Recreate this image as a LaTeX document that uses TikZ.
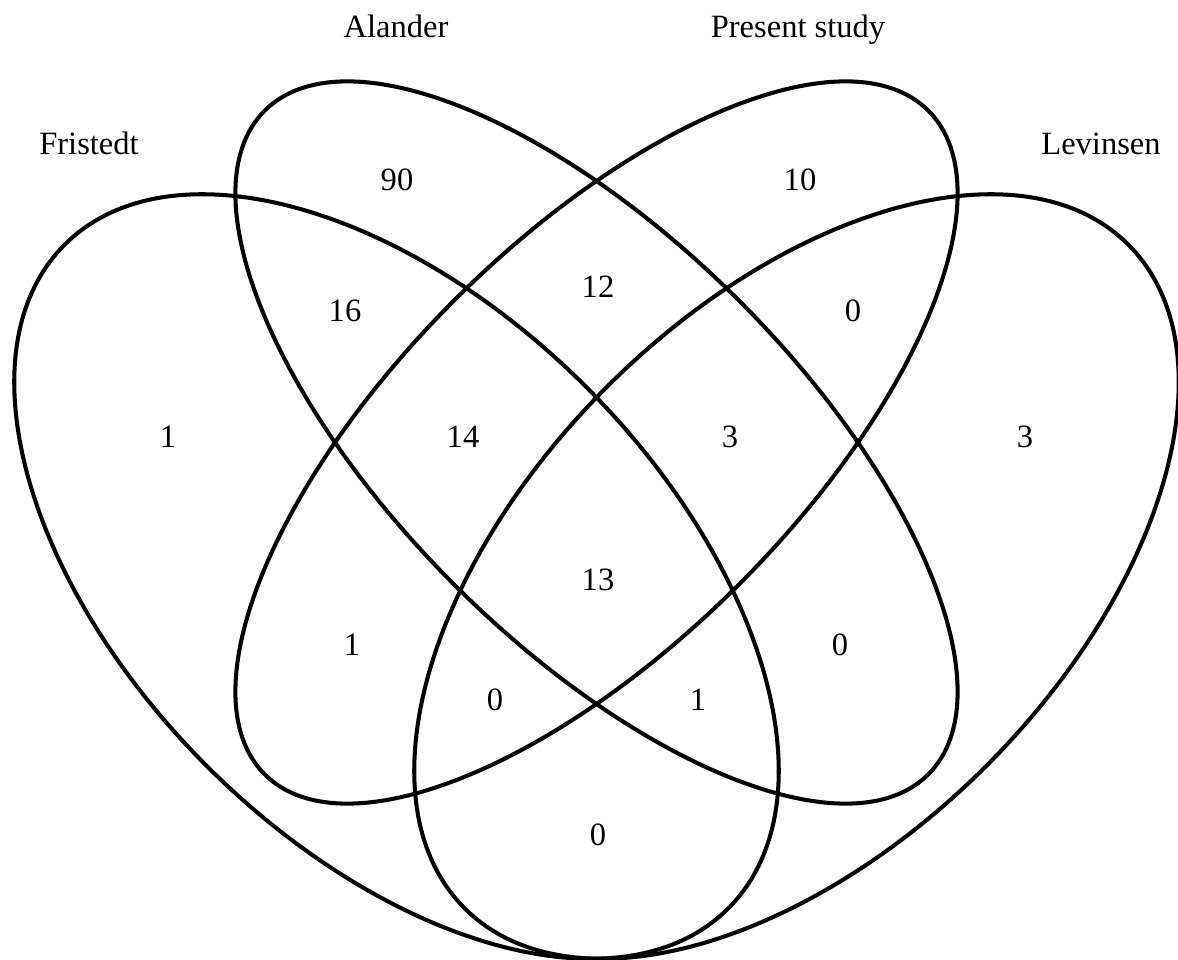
\documentclass[tikz,border=0pt]{standalone}
\usepackage{fontspec}
\setmainfont{Liberation Serif}
\begin{document}
\begin{tikzpicture}[x=0.01cm,y=0.01cm,
  setline/.style={line width=1.15pt},
  lbl/.style={font=\fontsize{9.25pt}{11pt}\selectfont, inner sep=0pt},
  num/.style={font=\fontsize{9.25pt}{11pt}\selectfont, inner sep=0pt, anchor=center}]
\useasboundingbox (0,0) rectangle (1178,960);
% ellipses
\draw[setline, shift={(396.5,383.5)}, rotate=-45] (0,0) ellipse [x radius=4.69cm, y radius=2.68cm];
\draw[setline, shift={(796.5,383.5)}, rotate=45] (0,0) ellipse [x radius=4.69cm, y radius=2.68cm];
\draw[setline, shift={(596.5,517.5)}, rotate=-45] (0,0) ellipse [x radius=4.69cm, y radius=2.01cm];
\draw[setline, shift={(596.5,517.5)}, rotate=45] (0,0) ellipse [x radius=4.69cm, y radius=2.01cm];
% set labels
\node[lbl, anchor=base] (lalander) at (396,922) {Alander};
\node[lbl, anchor=base] (lpresent) at (798,922) {Present study};
\node[lbl, anchor=base] (lfristedt) at (89,805) {Fristedt};
\node[lbl, anchor=base] (llevinsen) at (1101,805) {Levinsen};
% region counts
\node[num] (n90) at (397,780) {90};
\node[num] (n10) at (800,780) {10};
\node[num] (n16) at (345,649) {16};
\node[num] (n12) at (598,673) {12};
\node[num] (n0a) at (853,649) {0};
\node[num] (n1a) at (168,523) {1};
\node[num] (n14) at (463,523) {14};
\node[num] (n3a) at (730,523) {3};
\node[num] (n3b) at (1025,523) {3};
\node[num] (n13) at (598,380) {13};
\node[num] (n1b) at (352,315) {1};
\node[num] (n0b) at (840,315) {0};
\node[num] (n0c) at (495,260) {0};
\node[num] (n1c) at (698,260) {1};
\node[num] (n0d) at (598,125) {0};
\end{tikzpicture}
\end{document}
